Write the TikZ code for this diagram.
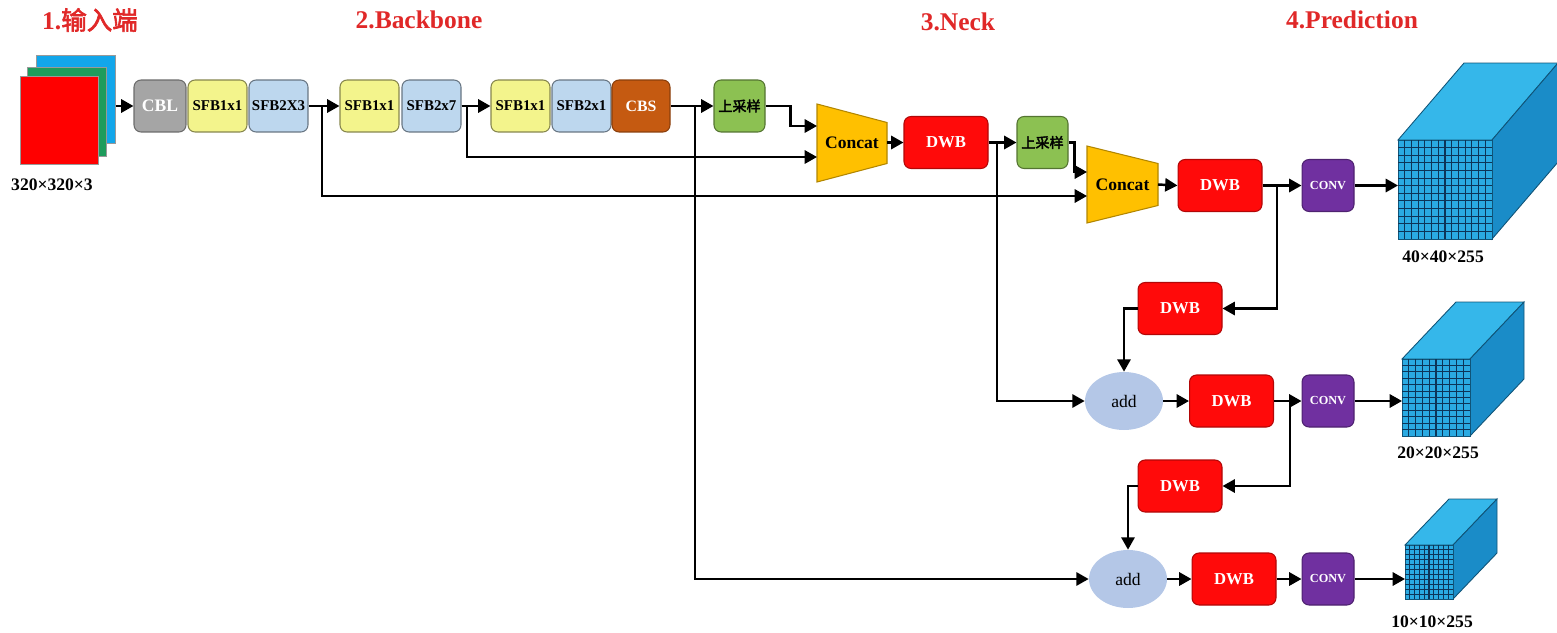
\documentclass[tikz,border=0pt]{standalone}
\usepackage{fontspec}
\setmainfont{Liberation Serif}
\newfontfamily\cjk[AutoFakeBold=2.5]{Noto Sans CJK SC}
\usetikzlibrary{arrows.meta,shapes.geometric}
\definecolor{titlec}{HTML}{E02828}
\definecolor{inblue}{HTML}{12A6EA}
\definecolor{ingreen}{HTML}{1E9C5C}
\definecolor{inred}{HTML}{FF0000}
\definecolor{cblc}{HTML}{A5A5A5}
\definecolor{sfbac}{HTML}{F3F48C}
\definecolor{sfbbc}{HTML}{BDD7EE}
\definecolor{cbsc}{HTML}{C55A11}
\definecolor{upc}{HTML}{8CC152}
\definecolor{dwbc}{HTML}{FF0A0A}
\definecolor{convc}{HTML}{7030A0}
\definecolor{catc}{HTML}{FFC000}
\definecolor{addc}{HTML}{B4C7E7}
\definecolor{cubetopc}{HTML}{35B7EA}
\definecolor{cubefrontc}{HTML}{2AAAE2}
\definecolor{cubesidec}{HTML}{1A8CC8}
\definecolor{gridc}{HTML}{0D3558}
\tikzset{
  heading/.style={text=titlec, font=\bfseries\fontsize{14.5}{16}\selectfont},
  dimlabel/.style={font=\bfseries\fontsize{10}{12}\selectfont},
  blk/.style={draw, rounded corners=4pt, line width=0.6pt, minimum height=1.04cm, inner sep=1pt, font=\bfseries\fontsize{8.5}{10}\selectfont},
  cblbox/.style={blk, fill=cblc, draw=cblc!65!black, text=white, minimum width=1.04cm, font=\bfseries\fontsize{10}{12}\selectfont},
  sfbone/.style={blk, fill=sfbac, draw=sfbac!55!black, minimum width=1.18cm},
  sfbtwo/.style={blk, fill=sfbbc, draw=sfbbc!55!black, minimum width=1.18cm},
  cbsbox/.style={blk, fill=cbsc, draw=cbsc!70!black, text=white, minimum width=1.16cm, font=\bfseries\fontsize{9}{10}\selectfont},
  upbox/.style={blk, fill=upc, draw=upc!60!black, minimum width=1.02cm, font=\cjk\bfseries\fontsize{8}{10}\selectfont},
  dwbbox/.style={blk, fill=dwbc, draw=dwbc!70!black, text=white, minimum width=1.68cm, font=\bfseries\fontsize{9.5}{11}\selectfont},
  convbox/.style={blk, fill=convc, draw=convc!70!black, text=white, minimum width=1.04cm, font=\bfseries\fontsize{7}{8}\selectfont},
  addbox/.style={ellipse, fill=addc, minimum width=1.56cm, minimum height=1.16cm, inner sep=0pt, font=\fontsize{10}{12}\selectfont},
  catbox/.style={fill=catc, draw=catc!70!black, line width=0.6pt},
  cattext/.style={font=\bfseries\fontsize{10}{12}\selectfont},
  inlayer/.style={draw=black!40, line width=0.4pt, inner sep=0pt},
  cubefront/.style={fill=cubefrontc, draw=cubesidec!60!black, line width=0.5pt, inner sep=0pt},
  cubetop/.style={fill=cubetopc, draw=cubesidec!60!black, line width=0.5pt},
  cubeside/.style={fill=cubesidec, draw=cubesidec!60!black, line width=0.5pt},
  gridln/.style={draw=gridc, line width=0.65pt},
  line/.style={draw=black, line width=1.4pt},
  arr/.style={line, -{Triangle[length=7pt,width=7.5pt]}},
}
\begin{document}
\begin{tikzpicture}[x=0.02cm,y=-0.02cm]
\useasboundingbox (0,0) rectangle (1557,632);

% section titles
\node[heading] (t1) at (90,20) {1.{\cjk 输入端}};
\node[heading] (t2) at (419,20) {2.Backbone};
\node[heading] (t3) at (958,22) {3.Neck};
\node[heading] (t4) at (1352,20) {4.Prediction};

% input image
\node[inlayer, fill=inblue, minimum width=1.58cm, minimum height=1.76cm, anchor=north west] (inb) at (36,55) {};
\node[inlayer, fill=ingreen, minimum width=1.58cm, minimum height=1.78cm, anchor=north west] (ing) at (27,67) {};
\node[inlayer, fill=inred, minimum width=1.56cm, minimum height=1.76cm, anchor=north west] (inr) at (20,76) {};
\node[dimlabel] (inlbl) at (52,185) {320×320×3};

% backbone
\node[cblbox] (cbl) at (160,106) {CBL};
\node[sfbone] (sfb1a) at (217.5,106) {SFB1x1};
\node[sfbtwo] (sfb2a) at (278.5,106) {SFB2X3};
\node[sfbone] (sfb1b) at (369.5,106) {SFB1x1};
\node[sfbtwo] (sfb2b) at (431.5,106) {SFB2x7};
\node[sfbone] (sfb1c) at (520.5,106) {SFB1x1};
\node[sfbtwo] (sfb2c) at (581.5,106) {SFB2x1};
\node[cbsbox] (cbs) at (641,106) {CBS};

% neck
\node[upbox] (up1) at (739.5,106) {上采样};
\coordinate (cat1) at (852,143);
\filldraw[catbox] ([shift={(-35,-39)}]cat1) -- ([shift={(35,-20.5)}]cat1) -- ([shift={(35,20.5)}]cat1) -- ([shift={(-35,39)}]cat1) -- cycle;
\node[cattext] (cat1t) at (cat1) {Concat};
\coordinate (cat1in1) at (817,126);
\coordinate (cat1in2) at (817,157);
\coordinate (cat1out) at (887,142.5);
\node[dwbbox] (dwb1) at (946,142.5) {DWB};
\node[upbox] (up2) at (1042.5,142.5) {上采样};
\coordinate (cat2) at (1122.5,184.5);
\filldraw[catbox] ([shift={(-35.5,-38.5)}]cat2) -- ([shift={(35.5,-21)}]cat2) -- ([shift={(35.5,21)}]cat2) -- ([shift={(-35.5,38.5)}]cat2) -- cycle;
\node[cattext] (cat2t) at (cat2) {Concat};
\coordinate (cat2in1) at (1087,172);
\coordinate (cat2in2) at (1087,196);
\coordinate (cat2out) at (1158,184.5);
\node[dwbbox] (dwb2) at (1220,185.5) {DWB};
\node[dwbbox] (dwb3) at (1180,308.5) {DWB};
\node[addbox] (add1) at (1124,401) {add};
\node[dwbbox] (dwb4) at (1231.5,401) {DWB};
\node[dwbbox] (dwb5) at (1180,486) {DWB};
\node[addbox] (add2) at (1128,579) {add};
\node[dwbbox] (dwb6) at (1234,579) {DWB};

% prediction
\node[convbox] (conv1) at (1328,185.5) {CONV};
\node[convbox] (conv2) at (1328,401) {CONV};
\node[convbox] (conv3) at (1328,579) {CONV};

% output cubes
\filldraw[cubetop] (1398,140) -- ++(66,-77) -- ++(94,0) -- ++(-66,77) -- cycle;
\filldraw[cubeside] (1492,140) -- ++(66,-77) -- ++(0,99) -- ++(-66,77) -- cycle;
\node[cubefront, minimum width=1.88cm, minimum height=1.98cm, anchor=north west] (cube1) at (1398,140) {};
\foreach \k in {1,...,13} \draw[gridln] ({1398+\k*94/14},140) -- ++(0,99);
\foreach \k in {1,...,12} \draw[gridln] (1398,{140+\k*99/13}) -- ++(94,0);
\node[dimlabel] (lbl1) at (1443,257) {40×40×255};

\filldraw[cubetop] (1402,359) -- ++(54,-57) -- ++(68,0) -- ++(-54,57) -- cycle;
\filldraw[cubeside] (1470,359) -- ++(54,-57) -- ++(0,77) -- ++(-54,57) -- cycle;
\node[cubefront, minimum width=1.36cm, minimum height=1.54cm, anchor=north west] (cube2) at (1402,359) {};
\foreach \k in {1,...,9} \draw[gridln] ({1402+\k*68/10},359) -- ++(0,77);
\foreach \k in {1,...,11} \draw[gridln] (1402,{359+\k*77/12}) -- ++(68,0);
\node[dimlabel] (lbl2) at (1438,453) {20×20×255};

\filldraw[cubetop] (1405,545) -- ++(44,-46) -- ++(48,0) -- ++(-44,46) -- cycle;
\filldraw[cubeside] (1453,545) -- ++(44,-46) -- ++(0,54) -- ++(-44,46) -- cycle;
\node[cubefront, minimum width=0.96cm, minimum height=1.08cm, anchor=north west] (cube3) at (1405,545) {};
\foreach \k in {1,...,9} \draw[gridln] ({1405+\k*48/10},545) -- ++(0,54);
\foreach \k in {1,...,10} \draw[gridln] (1405,{545+\k*54/11}) -- ++(48,0);
\node[dimlabel] (lbl3) at (1432,622) {10×10×255};

% connectors
\coordinate (j1) at (322,106);
\coordinate (j2) at (467,106);
\coordinate (j3) at (695,106);
\coordinate (j4) at (997,142.5);
\coordinate (j5) at (1277,185.5);
\coordinate (j6) at (1290,401);
\draw[arr] (inb.east |- cbl.west) -- (cbl.west);
\draw[arr] (sfb2a.east) -- (sfb1b.west);
\draw[arr] (sfb2b.east) -- (sfb1c.west);
\draw[arr] (cbs.east) -- (up1.west);
\draw[arr] (j1) |- (cat2in2);
\draw[arr] (sfb2b.east) -- (j2) |- (cat1in2);
\draw[arr] (j3) |- (add2.west);
\draw[arr] (up1.east) -- ++(25,0) |- (cat1in1);
\draw[arr] (cat1out) -- (dwb1.west);
\draw[arr] (dwb1.east) -- (up2.west);
\draw[arr] (j4) |- (add1.west);
\draw[arr] (up2.east) -- ++(6,0) |- (cat2in1);
\draw[arr] (cat2out) -- (dwb2.west);
\draw[arr] (dwb2.east) -- (conv1.west);
\draw[arr] (j5) |- (dwb3.east);
\draw[arr] (conv1.east) -- (cube1.west |- conv1.east);
\draw[arr] (dwb3.west) -| (add1.north);
\draw[arr] (add1.east) -- (dwb4.west);
\draw[arr] (dwb4.east) -- (conv2.west);
\draw[arr] (j6) |- (dwb5.east);
\draw[arr] (conv2.east) -- (cube2.west |- conv2.east);
\draw[arr] (dwb5.west) -| (add2.north);
\draw[arr] (add2.east) -- (dwb6.west);
\draw[arr] (dwb6.east) -- (conv3.west);
\draw[arr] (conv3.east) -- (cube3.west |- conv3.east);
\end{tikzpicture}
\end{document}
